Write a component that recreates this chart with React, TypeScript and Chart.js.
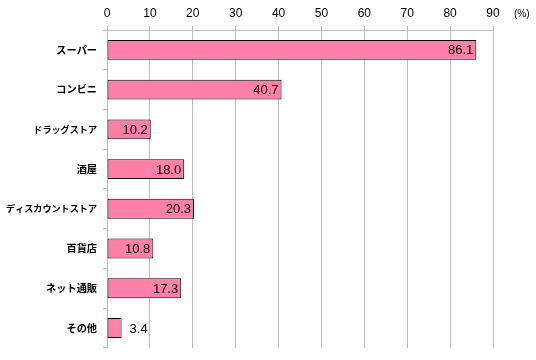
import React, { useEffect, useRef } from "react";
import { Chart, registerables } from "chart.js";

Chart.register(...registerables);

const categories = ["スーパー", "コンビニ", "ドラッグストア", "酒屋", "ディスカウントストア", "百貨店", "ネット通販", "その他"];
const values = [86.1, 40.7, 10.2, 18.0, 20.3, 10.8, 17.3, 3.4];
const xTicks = [0, 10, 20, 30, 40, 50, 60, 70, 80, 90];
const unitLabel = "(%)";

const labelPlugin = {
  id: "valueLabels",
  afterDatasetsDraw(chart: any) {
    const ctx = chart.ctx;
    const meta = chart.getDatasetMeta(0);
    ctx.save();
    ctx.font = '13px "Liberation Sans", Arial, sans-serif';
    ctx.fillStyle = "#000";
    ctx.textBaseline = "middle";
    meta.data.forEach((bar: any, i: number) => {
      const v = values[i];
      const txt = v.toFixed(1);
      const w = ctx.measureText(txt).width;
      const barW = bar.x - bar.base;
      if (barW > w + 8) {
        ctx.textAlign = "right";
        ctx.fillText(txt, bar.x - 3, bar.y + 1);
      } else {
        ctx.textAlign = "left";
        ctx.fillText(txt, bar.x + 8, bar.y + 1);
      }
    });
    const xs = chart.scales.x;
    ctx.font = '10px "Liberation Sans", Arial, sans-serif';
    ctx.textAlign = "left";
    ctx.fillText(unitLabel, xs.right + 21, 14);
    ctx.restore();
  },
};

export default function App() {
  const ref = useRef<HTMLCanvasElement>(null);
  useEffect(() => {
    document.body.style.margin = "0";
    const chart = new Chart(ref.current!, {
      type: "bar",
      data: {
        labels: categories,
        datasets: [
          {
            data: values,
            backgroundColor: "#FF80A8",
            borderColor: "#000000",
            borderWidth: 1,
            borderSkipped: false,
            barPercentage: 0.5,
            categoryPercentage: 1,
          },
        ],
      },
      options: {
        indexAxis: "y",
        animation: false,
        responsive: false,
        maintainAspectRatio: false,
        layout: { padding: { left: 0, right: 43, top: 0, bottom: 10 } },
        plugins: { legend: { display: false }, tooltip: { enabled: false } },
        scales: {
          x: {
            position: "top",
            min: 0,
            max: 90,
            afterBuildTicks(axis: any) {
              axis.ticks = xTicks.map((v) => ({ value: v }));
            },
            afterFit(axis: any) {
              axis.height = 30;
            },
            ticks: {
              color: "#000",
              font: { family: '"Liberation Sans", Arial, sans-serif', size: 12 },
              padding: 5,
              maxRotation: 0,
            },
            grid: { color: "#BEBEBE", lineWidth: 1, tickLength: 4, drawTicks: true },
            border: { display: true, color: "#BEBEBE" },
          },
          y: {
            afterFit(axis: any) {
              axis.width = 107;
            },
            ticks: {
              color: "#000",
              font: (c: any) => {
                const lbl = categories[c.index] || "";
                return {
                  family: '"Noto Sans CJK JP", sans-serif',
                  size: lbl.length >= 7 ? 9.1 : 10.2,
                  weight: "bold",
                };
              },
              padding: 6,
            },
            grid: { offset: true, drawOnChartArea: false, drawTicks: true, tickLength: 4, color: "#BEBEBE" },
            border: { display: true, color: "#BEBEBE" },
          },
        },
      },
      plugins: [labelPlugin],
    } as any);
    return () => chart.destroy();
  }, []);
  return (
    <div style={{ width: 536, height: 360 }}>
      <canvas ref={ref} width={536} height={360} style={{ width: 536, height: 360, display: "block" }} />
    </div>
  );
}
